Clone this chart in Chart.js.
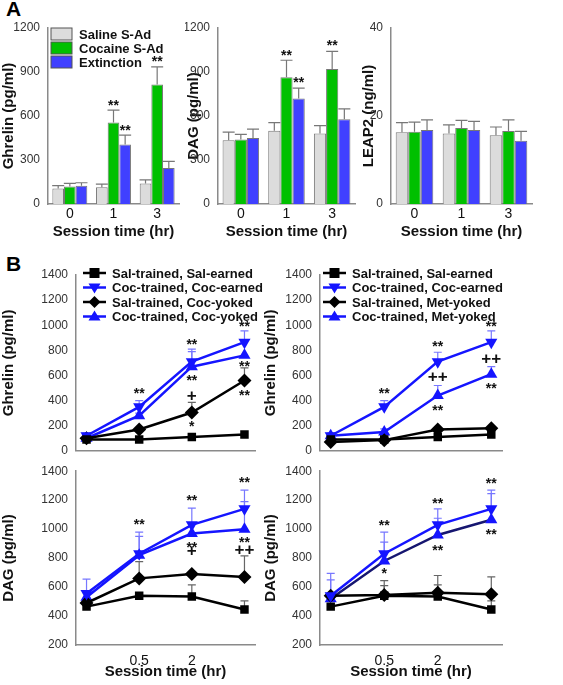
<!DOCTYPE html>
<html><head><meta charset="utf-8">
<script src="https://cdn.jsdelivr.net/npm/chart.js@4.4.1/dist/chart.umd.min.js"></script>
<style>body{margin:0;background:#fff;width:563px;height:685px;position:relative;overflow:hidden;font-family:"Liberation Sans",Arial,sans-serif}
canvas{position:absolute}.lbl{position:absolute;font-weight:bold;font-size:21px}</style></head>
<body>
<div class="lbl" style="left:6px;top:-3px">A</div>
<div class="lbl" style="left:6px;top:252px">B</div>
<canvas id="a1"></canvas><canvas id="a2"></canvas><canvas id="a3"></canvas>
<canvas id="b1"></canvas><canvas id="b2"></canvas><canvas id="b3"></canvas><canvas id="b4"></canvas>
<script>
// ---- Panel A data ----
const aCats = ['0','1','3'];
const barLabels = ['Saline S-Ad','Cocaine S-Ad','Extinction'];
const ghrSal = [105,115,140], ghrSalErr = [125,135,165];
const ghrCoc = [120,555,815], ghrCocErr = [140,640,935];
const ghrExt = [125,405,245], ghrExtErr = [145,470,290];
const dagSal = [435,500,480], dagSalErr = [490,555,535];
const dagCoc = [440,865,920], dagCocErr = [475,980,1040];
const dagExt = [450,720,578], dagExtErr = [510,790,648];
const lepSal = [16.3,16.0,15.6], lepSalErr = [18.5,18.0,17.5];
const lepCoc = [16.4,17.3,16.6], lepCocErr = [18.6,19.0,19.1];
const lepExt = [16.8,16.8,14.4], lepExtErr = [19.1,18.8,16.5];
// ---- Panel B data ----
const bTicks = ['0','0.5','2','4'];
const bX = [0,1,2,3];
const labelsL = ['Sal-trained, Sal-earned','Coc-trained, Coc-earned','Sal-trained, Coc-yoked','Coc-trained, Coc-yoked'];
const labelsR = ['Sal-trained, Sal-earned','Coc-trained, Coc-earned','Sal-trained, Met-yoked','Coc-trained, Met-yoked'];
const gL_sal=[90,90,110,130], gL_salE=[null,null,null,null];
const gL_coc=[120,350,710,865], gL_cocE=[140,400,810,955];
const gL_yok=[100,170,305,560], gL_yokE=[null,null,385,660];
const gL_cyk=[100,280,670,760], gL_cykE=[null,300,790,null];
const gR_sal=[90,90,110,130], gR_salE=[null,null,null,null];
const gR_coc=[120,350,710,865], gR_cocE=[140,400,785,955];
const gR_met=[70,85,170,180], gR_metE=[null,null,null,null];
const gR_cmt=[120,150,440,610], gR_cmtE=[null,175,520,670];
const dL_sal=[465,540,535,445], dL_salE=[null,null,615,505];
const dL_coc=[555,830,1030,1140], dL_cocE=[655,980,1145,1270];
const dL_yok=[490,660,690,670], dL_yokE=[null,775,null,815];
const dL_cyk=[530,820,970,1000], dL_cykE=[null,950,null,1190];
const dR_sal=[465,540,535,445], dR_salE=[null,610,615,505];
const dR_coc=[540,830,1030,1140], dR_cocE=[695,980,1140,1270];
const dR_met=[540,545,560,550], dR_metE=[null,645,680,670];
const dR_cmt=[520,780,960,1065], dR_cmtE=[650,910,1075,1245];
// annotations
const annA1=[[1,1,689,'**'],[2,1,518,'**'],[1,2,988,'**']];
const annA2=[[1,1,1030,'**'],[2,1,845,'**'],[1,2,1097,'**']];
const annB1=[[1,477,'**'],[2,862,'**'],[2,577,'**'],[2,435,'+'],[2,213,'*'],[3,1012,'**'],[3,688,'**'],[3,459,'**']];
const annB2=[[1,477,'**'],[2,851,'**'],[2,585,'++'],[2,340,'**'],[3,1012,'**'],[3,727,'++'],[3,514,'**']];
const annB3=[[1,1045,'**'],[2,1211,'**'],[2,889,'**'],[2,848,'+'],[3,1341,'**'],[3,923,'**'],[3,855,'++']];
const annB4=[[1,1039,'**'],[1,711,'*'],[2,1195,'**'],[2,870,'**'],[3,1332,'**'],[3,980,'**']];

const FONT='"Liberation Sans", Arial, sans-serif';
const AX='#8a8a8a';
const errPlugin={id:'err',beforeDatasetsDraw(c){const ctx=c.ctx,ys=c.scales.y;
 c.data.datasets.forEach((ds,di)=>{if(!ds.errTop)return;const m=c.getDatasetMeta(di);
  m.data.forEach((el,i)=>{const e=ds.errTop[i];if(e==null)return;const y1=ys.getPixelForValue(e);
   ctx.save();ctx.strokeStyle=ds.errColor;ctx.lineWidth=1.2;ctx.beginPath();
   ctx.moveTo(el.x,el.y);ctx.lineTo(el.x,y1);ctx.moveTo(el.x-ds.capW,y1);ctx.lineTo(el.x+ds.capW,y1);ctx.stroke();ctx.restore();});});}};
const annPlugin={id:'ann',afterDatasetsDraw(c,a,o){if(!o.items)return;const ctx=c.ctx;ctx.save();
 ctx.fillStyle='#111';ctx.textAlign='center';ctx.textBaseline='middle';
 o.items.forEach(it=>{let x,y,t;if(o.bar){x=c.getDatasetMeta(it[0]).data[it[1]].x;y=it[2];t=it[3];}else{x=c.scales.x.getPixelForValue(it[0]);y=it[1];t=it[2];}
  const plus=t.includes('+');ctx.font=(plus?'bold 17px ':'bold 14px ')+FONT;
  ctx.fillText(t,x,c.scales.y.getPixelForValue(y)+(plus?0:3));});ctx.restore();}};
const legPlugin={id:'leg',afterDraw(c,a,o){if(o.x===undefined)return;const ctx=c.ctx;ctx.save();
 c.data.datasets.forEach((ds,i)=>{const y=o.y+i*o.dy;
  if(o.type==='box'){ctx.fillStyle=ds.backgroundColor;ctx.strokeStyle='#555';ctx.lineWidth=1;ctx.fillRect(o.x,y-6,21,12);ctx.strokeRect(o.x,y-6,21,12);}
  else{ctx.strokeStyle=ds.borderColor;ctx.lineWidth=2.5;ctx.beginPath();ctx.moveTo(o.x,y);ctx.lineTo(o.x+23,y);ctx.stroke();
   ctx.fillStyle=ds.pointBackgroundColor;const r=6,cx=o.x+11.5;ctx.beginPath();
   if(ds.pointStyle==='rect'){ctx.rect(cx-5,y-5,10,10);}else if(ds.pointStyle==='rectRot'){ctx.moveTo(cx,y-r);ctx.lineTo(cx+r,y);ctx.lineTo(cx,y+r);ctx.lineTo(cx-r,y);}
   else if(ds.pointRotation===180){ctx.moveTo(cx-r,y-4);ctx.lineTo(cx+r,y-4);ctx.lineTo(cx,y+6);}else{ctx.moveTo(cx-r,y+4);ctx.lineTo(cx+r,y+4);ctx.lineTo(cx,y-6);}
   ctx.closePath();ctx.fill();}
  ctx.fillStyle='#111';ctx.font='bold 13px '+FONT;ctx.textBaseline='middle';ctx.textAlign='left';ctx.fillText(ds.label,o.x+(o.type==='box'?28:29),y+1);});ctx.restore();}};

function place(id,L,T,W,H){const cv=document.getElementById(id);cv.width=W;cv.height=H;cv.style.left=L+'px';cv.style.top=T+'px';return cv;}
function yAxis(min,max,step,title,w){return {min,max,ticks:{stepSize:step,color:'#333',font:{family:FONT,size:12},padding:4,callback:v=>String(v)},
 grid:{display:false,drawTicks:true,tickLength:4,tickColor:AX},border:{color:AX,width:1.5},
 title:{display:true,text:title,color:'#111',font:{family:FONT,size:15,weight:'bold'},padding:{top:0,bottom:4}},afterFit(s){s.width=w;}};}
function barChart(id,L,T,W,H,yw,pr,vals,errs,ymax,step,title,ann,legend){
 place(id,L,T,W,H);const cols=['#dcdcdc','#00c000','#4040ff'];
 new Chart(document.getElementById(id),{type:'bar',plugins:[errPlugin,annPlugin,legPlugin],
  data:{labels:aCats,datasets:vals.map((v,i)=>({label:barLabels[i],data:v,errTop:errs[i],errColor:'#777',capW:6,backgroundColor:cols[i],borderColor:'#777',borderWidth:1,categoryPercentage:0.8,barPercentage:1}))},
  options:{responsive:false,animation:false,layout:{padding:{top:13,right:pr}},
   plugins:{legend:{display:false},tooltip:{enabled:false},ann:{bar:true,items:ann},leg:legend||{}},
   scales:{x:{ticks:{color:'#111',font:{family:FONT,size:14},padding:2},grid:{display:false,drawTicks:false},border:{color:AX,width:1.5},
     title:{display:true,text:'Session time (hr)',color:'#111',font:{family:FONT,size:15,weight:'bold'},padding:{top:1}},afterFit(s){s.height=41;}},
    y:yAxis(0,ymax,step,title,yw)}}});}
barChart('a1',0,15,190,230,48,11,[ghrSal,ghrCoc,ghrExt],[ghrSalErr,ghrCocErr,ghrExtErr],1200,300,'Ghrelin (pg/ml)',annA1,{x:51,y:19,dy:14,type:'box'});
barChart('a2',185,15,180,230,33,10,[dagSal,dagCoc,dagExt],[dagSalErr,dagCocErr,dagExtErr],1200,300,'DAG (pg/ml)',annA2);
barChart('a3',360,15,203,230,31,31,[lepSal,lepCoc,lepExt],[lepSalErr,lepCocErr,lepExtErr],40,20,'LEAP2 (ng/ml)',[]);

function lineChart(id,L,T,W,H,yw,pt,xh,sets,labels,ymin,ymax,title,ann,legend,showX,dark4){
 place(id,L,T,W,H);
 const styles=[{c:'#000',ps:'rect',rot:0,e:'#666'},{c:'#1515ff',ps:'triangle',rot:180,e:'#7777ff'},{c:'#000',ps:'rectRot',rot:0,e:'#666'},{c:dark4?'#161670':'#1515ff',ps:'triangle',rot:0,e:'#7777ff',pc:'#1515ff'}];
 const ds=sets.map((s,i)=>({label:labels[i],data:bX.map((x,j)=>({x,y:s[0][j]})),errTop:s[1],errColor:styles[i].e,capW:4,
  borderColor:styles[i].c,borderWidth:2.5,pointStyle:styles[i].ps,pointRotation:styles[i].rot,pointRadius:styles[i].ps==='rect'?6:7,
  pointBackgroundColor:styles[i].pc||styles[i].c,pointBorderColor:styles[i].pc||styles[i].c,pointBorderWidth:0,tension:0}));
 new Chart(document.getElementById(id),{type:'line',plugins:[errPlugin,annPlugin,legPlugin],data:{datasets:ds},
  options:{responsive:false,animation:false,layout:{padding:{top:pt,right:10}},
   plugins:{legend:{display:false},tooltip:{enabled:false},ann:{items:ann},leg:legend||{}},
   scales:{x:{type:'linear',min:-0.2,max:3.2,ticks:{stepSize:1,display:showX,color:'#111',font:{family:FONT,size:14},padding:4,callback:v=>bTicks[v]},
     grid:{display:false,drawTicks:true,tickLength:4,tickColor:AX},border:{color:AX,width:1.5},
     title:{display:showX,text:'Session time (hr)',color:'#111',font:{family:FONT,size:15,weight:'bold'},padding:{top:0}},afterFit(s){s.height=xh;}},
    y:yAxis(ymin,ymax,200,title,yw)}}});}
lineChart('b1',0,262,265,200,76,13,10,[[gL_sal,gL_salE],[gL_coc,gL_cocE],[gL_yok,gL_yokE],[gL_cyk,gL_cykE]],labelsL,0,1400,'Ghrelin (pg/ml)',annB1,{x:83,y:11,dy:14.5,type:'line'},false,false);
lineChart('b2',262,262,250,200,58,13,10,[[gR_sal,gR_salE],[gR_coc,gR_cocE],[gR_met,gR_metE],[gR_cmt,gR_cmtE]],labelsR,0,1400,'Ghrelin (pg/ml)',annB2,{x:61,y:11,dy:14.5,type:'line'},false,false);
lineChart('b3',0,460,265,225,76,9,40,[[dL_sal,dL_salE],[dL_coc,dL_cocE],[dL_yok,dL_yokE],[dL_cyk,dL_cykE]],labelsL,200,1400,'DAG (pg/ml)',annB3,null,true,false);
lineChart('b4',262,460,250,225,58,9,40,[[dR_sal,dR_salE],[dR_coc,dR_cocE],[dR_met,dR_metE],[dR_cmt,dR_cmtE]],labelsR,200,1400,'DAG (pg/ml)',annB4,null,true,true);
</script></body></html>
